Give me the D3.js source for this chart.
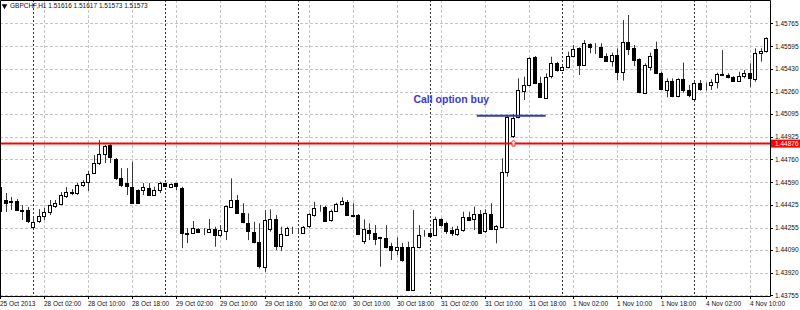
<!DOCTYPE html>
<html>
<head>
<meta charset="utf-8">
<script src="https://cdnjs.cloudflare.com/ajax/libs/d3/7.8.5/d3.min.js"></script>
<style>
  body { margin: 0; background: #fff; }
  svg { display: block; }
  text { font-family: "Liberation Sans", Arial, sans-serif; }
</style>
</head>
<body>
<svg id="chart" width="800" height="310"></svg>
<script>
// GBPCHF H1 - bar 0 is 28 Oct 2013 00:00, first visible bar is -6
var firstBar = -6;

var opens = [
  1.44555,1.44459,1.44452,1.44452,1.44385,1.44385,
  1.44262,1.44304,1.44341,1.44370,1.44415,1.44429,1.44489,1.44518,1.44511,1.44570,
  1.44592,1.44661,1.44735,1.44799,1.44865,1.44762,1.44622,1.44585,1.44555,1.44533,
  1.44533,1.44548,1.44496,1.44533,1.44582,1.44557,1.44582,1.44545,1.44215,1.44215,
  1.44245,1.44226,1.44223,1.44245,1.44200,1.44232,1.44405,1.44459,1.44361,1.44287,
  1.44225,1.44151,1.43966,1.44242,1.44316,1.44119,1.44200,1.44232,1.44226,1.44217,
  1.44262,1.44348,1.44405,1.44410,1.44311,1.44380,1.44429,1.44446,1.44350,1.44348,
  1.44151,1.44237,1.44217,1.44183,1.44176,1.44119,1.44084,1.44109,1.44114,1.43794,
  1.44109,1.44206,1.44213,1.44200,1.44316,1.44287,1.44237,1.44208,1.44237,1.44331,
  1.44316,1.44356,1.44225,1.44356,1.44242,1.44262,1.44668,1.44932,1.45075,1.45267,
  1.45309,1.45518,1.45326,1.45211,1.45370,1.45469,1.45425,1.45440,1.45518,1.45580,
  1.45457,1.45612,1.45587,1.45592,1.45523,1.45488,1.45531,1.45407,1.45629,1.45580,
  1.45499,1.45248,1.45444,1.45573,1.45395,1.45277,1.45341,1.45228,1.45351,1.45272,
  1.45203,1.45326,1.45301,1.45309,1.45333,1.45390,1.45383,1.45370,1.45341,1.45375,
  1.45395,1.45358,1.45548,1.45555
];
var highs = [
  1.44585,1.44511,1.44481,1.44466,1.44422,1.44407,
  1.44333,1.44392,1.44400,1.44459,1.44459,1.44518,1.44555,1.44540,1.44585,1.44607,
  1.44673,1.44792,1.44902,1.44865,1.44873,1.44769,1.44695,1.44695,1.44742,1.44538,
  1.44585,1.44585,1.44557,1.44594,1.44585,1.44581,1.44585,1.44557,1.44252,1.44304,
  1.44252,1.44252,1.44319,1.44262,1.44274,1.44418,1.44619,1.44496,1.44435,1.44361,
  1.44299,1.44287,1.44385,1.44390,1.44348,1.44262,1.44262,1.44262,1.44245,1.44267,
  1.44361,1.44446,1.44422,1.44415,1.44390,1.44439,1.44479,1.44459,1.44435,1.44356,
  1.44316,1.44287,1.44274,1.44188,1.44274,1.44143,1.44183,1.44143,1.44151,1.44385,
  1.44274,1.44237,1.44250,1.44336,1.44324,1.44299,1.44262,1.44267,1.44373,1.44373,
  1.44410,1.44385,1.44390,1.44435,1.44274,1.44767,1.45087,1.45095,1.45358,1.45370,
  1.45514,1.45523,1.45370,1.45395,1.45518,1.45481,1.45457,1.45555,1.45604,1.45587,
  1.45641,1.45617,1.45617,1.45617,1.45543,1.45548,1.45580,1.45789,1.45826,1.45604,
  1.45506,1.45469,1.45548,1.45629,1.45407,1.45358,1.45358,1.45358,1.45474,1.45309,
  1.45333,1.45346,1.45326,1.45351,1.45400,1.45567,1.45395,1.45375,1.45407,1.45420,
  1.45469,1.45580,1.45580,1.45661
];
var lows = [
  1.44356,1.44370,1.44385,1.44378,1.44311,1.44289,
  1.44245,1.44289,1.44311,1.44348,1.44400,1.44422,1.44474,1.44496,1.44496,1.44555,
  1.44526,1.44659,1.44718,1.44732,1.44732,1.44607,1.44555,1.44496,1.44435,1.44435,
  1.44496,1.44489,1.44489,1.44511,1.44559,1.44555,1.44533,1.44104,1.44141,1.44208,
  1.44215,1.44200,1.44217,1.44114,1.44188,1.44163,1.44402,1.44359,1.44287,1.44163,
  1.44139,1.43954,1.43929,1.44225,1.44089,1.44084,1.44193,1.44208,1.44211,1.44213,
  1.44250,1.44336,1.44373,1.44304,1.44299,1.44373,1.44422,1.44341,1.44336,1.44200,
  1.44134,1.44163,1.44126,1.43966,1.44102,1.44016,1.44053,1.44003,1.43789,1.43789,
  1.44102,1.44188,1.44188,1.44193,1.44262,1.44208,1.44193,1.44193,1.44225,1.44306,
  1.44237,1.44213,1.44217,1.44237,1.44139,1.44257,1.44631,1.44917,1.45063,1.45198,
  1.45301,1.45321,1.45218,1.45205,1.45358,1.45407,1.45415,1.45432,1.45514,1.45383,
  1.45449,1.45543,1.45538,1.45514,1.45481,1.45444,1.45346,1.45341,1.45531,1.45449,
  1.45248,1.45242,1.45415,1.45390,1.45272,1.45218,1.45218,1.45218,1.45252,1.45218,
  1.45193,1.45267,1.45267,1.45272,1.45284,1.45383,1.45358,1.45333,1.45333,1.45358,
  1.45292,1.45333,1.45481,1.45548
];
var closes = [
  1.44378,1.44437,1.44444,1.44385,1.44378,1.44304,
  1.44299,1.44341,1.44370,1.44422,1.44437,1.44496,1.44518,1.44514,1.44570,1.44592,
  1.44651,1.44735,1.44799,1.44858,1.44779,1.44622,1.44570,1.44562,1.44439,1.44439,
  1.44555,1.44496,1.44533,1.44582,1.44562,1.44577,1.44562,1.44213,1.44208,1.44250,
  1.44223,1.44223,1.44242,1.44200,1.44237,1.44415,1.44459,1.44361,1.44291,1.44225,
  1.44151,1.43971,1.44311,1.44316,1.44114,1.44208,1.44250,1.44230,1.44223,1.44262,
  1.44353,1.44398,1.44404,1.44306,1.44380,1.44429,1.44454,1.44348,1.44346,1.44208,
  1.44242,1.44217,1.44176,1.44174,1.44109,1.44089,1.44109,1.44010,1.43794,1.44114,
  1.44200,1.44208,1.44193,1.44316,1.44274,1.44225,1.44213,1.44242,1.44331,1.44311,
  1.44356,1.44217,1.44361,1.44242,1.44267,1.44668,1.45075,1.45065,1.45272,1.45309,
  1.45506,1.45326,1.45222,1.45366,1.45469,1.45415,1.45444,1.45523,1.45573,1.45457,
  1.45617,1.45587,1.45584,1.45518,1.45488,1.45531,1.45407,1.45629,1.45580,1.45494,
  1.45252,1.45457,1.45523,1.45395,1.45277,1.45341,1.45228,1.45351,1.45272,1.45235,
  1.45321,1.45284,1.45298,1.45333,1.45390,1.45386,1.45366,1.45341,1.45375,1.45400,
  1.45358,1.45548,1.45562,1.45654
];

var priceTicks = [1.45765, 1.45595, 1.45430, 1.45260, 1.45095, 1.44925, 1.44760,
                  1.44590, 1.44425, 1.44255, 1.44090, 1.43920, 1.43755];
var timeLabels = ["25 Oct 2013", "28 Oct 02:00", "28 Oct 10:00", "28 Oct 18:00", "29 Oct 02:00",
                  "29 Oct 10:00", "29 Oct 18:00", "30 Oct 02:00", "30 Oct 10:00", "30 Oct 18:00",
                  "31 Oct 02:00", "31 Oct 10:00", "31 Oct 18:00", "1 Nov 02:00", "1 Nov 10:00",
                  "1 Nov 18:00", "4 Nov 02:00", "4 Nov 10:00"];
var timeLabelBars = [-6, 2, 10, 18, 26, 34, 42, 50, 58, 66, 74, 82, 90, 98, 106, 114, 122, 130];
var daySeparatorBars = [0, 24, 48, 72, 96, 120];

var levelPrice = 1.44876;
var arrowBar = 87;
var callLineBars = [80.5, 93];
var callLinePrice = 1.45082;
var callLabel = "Call option buy";
var callLabelBar = 69;
var callLabelPrice = 1.45203;
var title = "GBPCHF,H1  1.51616 1.51617 1.51573 1.51573";

var W = 770, H = 296;
var svg = d3.select("#chart");

var x = d3.scaleLinear().domain([-6, 133.7]).range([0, W]);
var y = d3.scaleLinear().domain([1.43750, 1.45937]).range([H, 0]);

var bars = d3.range(opens.length).map(function(k) {
  return { i: firstBar + k, o: opens[k], h: highs[k], l: lows[k], c: closes[k] };
});

var plot = svg.append("g");
plot.append("clipPath").attr("id", "clip")
  .append("rect").attr("width", W).attr("height", H);

// horizontal grid
plot.selectAll(".hgrid").data(priceTicks).enter().append("line")
  .attr("x1", 0).attr("x2", W)
  .attr("y1", function(d) { return Math.round(y(d)) + 0.5; })
  .attr("y2", function(d) { return Math.round(y(d)) + 0.5; })
  .attr("stroke", "#c4c4c4").attr("stroke-dasharray", "3,2");

// vertical grid
plot.selectAll(".vgrid").data(timeLabelBars.slice(1)).enter().append("line")
  .attr("x1", function(d) { return Math.round(x(d)) + 0.5; })
  .attr("x2", function(d) { return Math.round(x(d)) + 0.5; })
  .attr("y1", 0).attr("y2", H)
  .attr("stroke", "#c4c4c4").attr("stroke-dasharray", "3,2");

// day separators
plot.selectAll(".sep").data(daySeparatorBars).enter().append("line")
  .attr("x1", function(d) { return Math.round(x(d)) + 0.5; })
  .attr("x2", function(d) { return Math.round(x(d)) + 0.5; })
  .attr("y1", 0).attr("y2", H)
  .attr("stroke", "#333").attr("stroke-dasharray", "2,2");

// candles
var candles = plot.append("g").attr("clip-path", "url(#clip)")
  .selectAll("g").data(bars).enter().append("g");

candles.append("line")
  .attr("x1", function(d) { return Math.round(x(d.i)) + 0.5; })
  .attr("x2", function(d) { return Math.round(x(d.i)) + 0.5; })
  .attr("y1", function(d) { return y(d.h); })
  .attr("y2", function(d) { return y(d.l); })
  .attr("stroke", "#3a3a3a").attr("stroke-width", 1);

candles.append("rect")
  .attr("x", function(d) { return Math.round(x(d.i)) - 1.5; })
  .attr("width", 3)
  .attr("y", function(d) { return Math.round(y(Math.max(d.o, d.c))) + 0.5; })
  .attr("height", function(d) { return Math.round(Math.abs(y(d.o) - y(d.c))); })
  .attr("fill", function(d) { return d.c >= d.o ? "#fff" : "#000"; })
  .attr("stroke", "#000").attr("stroke-width", 1);

// red level
plot.append("line")
  .attr("x1", 0).attr("x2", W)
  .attr("y1", y(levelPrice)).attr("y2", y(levelPrice))
  .attr("stroke", "#ff0000").attr("stroke-width", 2);

// arrow marker
var ax = Math.round(x(arrowBar)) + 0.5, ay = y(levelPrice);
plot.append("path")
  .attr("d", "M" + ax + "," + (ay - 3.5) + "l3,3h-1.5v3h-3v-3h-1.5z")
  .attr("fill", "#ffd0d0").attr("stroke", "#ff3030").attr("stroke-width", 1);

// call option line + label
plot.append("line")
  .attr("x1", x(callLineBars[0])).attr("x2", x(callLineBars[1]))
  .attr("y1", y(callLinePrice)).attr("y2", y(callLinePrice))
  .attr("stroke", "#2f3db5").attr("stroke-width", 2);

plot.append("text")
  .attr("x", x(callLabelBar)).attr("y", y(callLabelPrice))
  .attr("dy", "0.35em")
  .attr("font-family", "'Open Sans', 'Liberation Sans', sans-serif")
  .attr("font-size", "10.5px").attr("font-weight", 600)
  .attr("fill", "#3a3ad2")
  .text(callLabel);

// frame
svg.append("path")
  .attr("d", "M0.5,0.5H" + (W + 0.5) + "V" + (H + 0.5) + "H0.5Z")
  .attr("fill", "none").attr("stroke", "#000");

// price axis
var pAxis = svg.append("g");
pAxis.selectAll("line").data(priceTicks).enter().append("line")
  .attr("x1", W).attr("x2", W + 3)
  .attr("y1", function(d) { return Math.round(y(d)) + 0.5; })
  .attr("y2", function(d) { return Math.round(y(d)) + 0.5; })
  .attr("stroke", "#000");
pAxis.selectAll("text").data(priceTicks).enter().append("text")
  .attr("x", W + 5).attr("y", function(d) { return y(d); })
  .attr("dy", "0.35em").attr("font-size", "6.5px").attr("fill", "#111")
  .text(function(d) { return d.toFixed(5); });

// level label on price axis
svg.append("rect")
  .attr("x", W + 1).attr("y", y(levelPrice) - 4).attr("width", 30).attr("height", 8)
  .attr("fill", "#ff0000");
svg.append("text")
  .attr("x", W + 5).attr("y", y(levelPrice)).attr("dy", "0.35em")
  .attr("font-size", "6.5px").attr("fill", "#fff")
  .text(levelPrice.toFixed(5));

// time axis
var tAxis = svg.append("g");
tAxis.selectAll("line").data(timeLabelBars).enter().append("line")
  .attr("x1", function(d) { return Math.round(x(d)) + 0.5; })
  .attr("x2", function(d) { return Math.round(x(d)) + 0.5; })
  .attr("y1", H).attr("y2", H + 3)
  .attr("stroke", "#000");
tAxis.selectAll("text").data(timeLabels).enter().append("text")
  .attr("x", function(d, k) { return Math.max(0, Math.round(x(timeLabelBars[k]))); })
  .attr("y", H + 10)
  .attr("font-size", "6.5px").attr("fill", "#111")
  .text(function(d) { return d; });

// title
svg.append("path")
  .attr("d", d3.symbol(d3.symbolTriangle, 14)())
  .attr("transform", "translate(4.5,6) rotate(180)")
  .attr("fill", "#000");
svg.append("text")
  .attr("x", 10).attr("y", 6).attr("dy", "0.35em")
  .attr("font-size", "6.5px").attr("fill", "#111")
  .text(title);
</script>
</body>
</html>
